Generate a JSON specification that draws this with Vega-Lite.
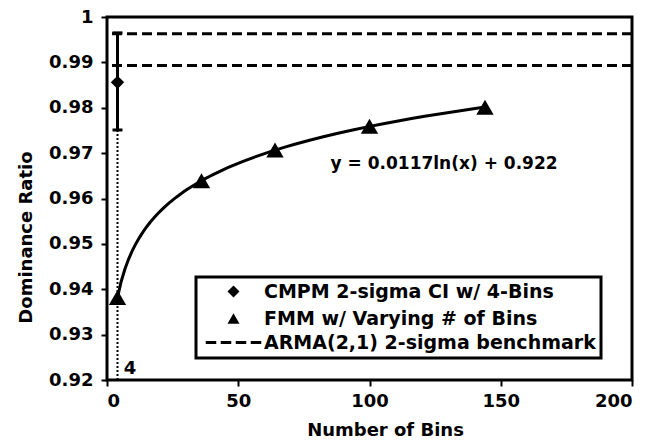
{
  "$schema": "https://vega.github.io/schema/vega-lite/v6.json",
  "width": 525,
  "height": 363,
  "autosize": "none",
  "padding": {"left": 107, "top": 17, "right": 20, "bottom": 62},
  "background": "white",
  "config": {
    "font": "DejaVu Sans",
    "view": {"stroke": "black", "strokeWidth": 3},
    "legend": {"strokeWidth": 3},
    "axis": {
      "domain": false,
      "grid": false,
      "tickColor": "black",
      "tickWidth": 2,
      "tickSize": 6,
      "labelFont": "DejaVu Sans",
      "labelFontSize": 18,
      "labelFontWeight": "bold",
      "labelColor": "black",
      "titleFont": "DejaVu Sans",
      "titleFontSize": 18,
      "titleFontWeight": "bold",
      "titleColor": "black"
    }
  },
  "datasets": {
    "pts": [
      {"x": 4, "y": 0.9856, "series": "CMPM 2-sigma CI w/ 4-Bins"},
      {"x": 4, "y": 0.9382, "series": "FMM w/ Varying # of Bins"},
      {"x": 36, "y": 0.9639, "series": "FMM w/ Varying # of Bins"},
      {"x": 64, "y": 0.9707, "series": "FMM w/ Varying # of Bins"},
      {"x": 100, "y": 0.9759, "series": "FMM w/ Varying # of Bins"},
      {"x": 144, "y": 0.9801, "series": "FMM w/ Varying # of Bins"}
    ],
    "bench": [{"y": 0.9963}, {"y": 0.9893}],
    "ci": [{"x": 4, "lo": 0.9751, "hi": 0.9965}],
    "caps": [{"x": 4, "y": 0.9751}, {"x": 4, "y": 0.9965}],
    "dotted": [{"x": 4, "y": 0.92, "y2": 0.9751}],
    "labels": [
      {"x": 8.8, "y": 0.9225, "text": "4", "kind": "four"},
      {"x": 128.4, "y": 0.9675, "text": "y = 0.0117ln(x) + 0.922", "kind": "eq"}
    ]
  },
  "layer": [
    {
      "data": {"name": "bench"},
      "mark": {"type": "rule", "color": "black", "strokeWidth": 3, "strokeDash": [10, 5]},
      "encoding": {
        "y": {"field": "y", "type": "quantitative", "scale": {"domain": [0.92, 1]}}
      }
    },
    {
      "data": {"name": "dotted"},
      "mark": {"type": "rule", "color": "black", "strokeWidth": 2, "strokeDash": [2, 2]},
      "encoding": {
        "x": {"field": "x", "type": "quantitative"},
        "y": {"field": "y", "type": "quantitative"},
        "y2": {"field": "y2"}
      }
    },
    {
      "data": {"name": "ci"},
      "mark": {"type": "rule", "color": "black", "strokeWidth": 3},
      "encoding": {
        "x": {"field": "x", "type": "quantitative"},
        "y": {"field": "lo", "type": "quantitative"},
        "y2": {"field": "hi"}
      }
    },
    {
      "data": {"name": "caps"},
      "mark": {"type": "tick", "color": "black", "orient": "horizontal", "thickness": 3, "size": 10, "opacity": 1},
      "encoding": {
        "x": {"field": "x", "type": "quantitative"},
        "y": {"field": "y", "type": "quantitative"}
      }
    },
    {
      "data": {"name": "pts"},
      "transform": [
        {"filter": "datum.series === 'FMM w/ Varying # of Bins'"},
        {"regression": "y", "on": "x", "method": "log", "extent": [4, 144]}
      ],
      "mark": {"type": "line", "color": "black", "strokeWidth": 3},
      "encoding": {
        "x": {"field": "x", "type": "quantitative"},
        "y": {"field": "y", "type": "quantitative"}
      }
    },
    {
      "data": {"name": "pts"},
      "mark": {"type": "point", "filled": true, "color": "black", "opacity": 1},
      "encoding": {
        "x": {"field": "x", "type": "quantitative"},
        "y": {"field": "y", "type": "quantitative"},
        "size": {"condition": {"test": "datum.series === 'CMPM 2-sigma CI w/ 4-Bins'", "value": 180}, "value": 300},
        "shape": {
          "field": "series",
          "type": "nominal",
          "scale": {
            "domain": ["CMPM 2-sigma CI w/ 4-Bins", "FMM w/ Varying # of Bins", "ARMA(2,1) 2-sigma benchmark"],
            "range": ["diamond", "triangle-up", "M-4.625,-0.25H-2.875V0.25H-4.625ZM-2.125,-0.25H-0.375V0.25H-2.125ZM0.375,-0.25H2.125V0.25H0.375ZM2.875,-0.25H4.625V0.25H2.875Z"]
          },
          "legend": {
            "title": null,
            "orient": "none",
            "legendX": 89,
            "legendY": 260,
            "strokeColor": "black",
            "fillColor": "white",
            "padding": 5,
            "rowPadding": 3,
            "symbolSize": 144,
            "symbolFillColor": "black",
            "symbolStrokeWidth": 3,
            "symbolOffset": 23,
            "labelOffset": 21,
            "labelFont": "DejaVu Sans",
            "labelFontSize": 19,
            "labelFontWeight": "bold",
            "labelColor": "black",
            "labelLimit": 600
          }
        }
      }
    },
    {
      "data": {"name": "labels"},
      "mark": {"type": "text", "font": "DejaVu Sans", "fontWeight": "bold", "color": "black", "baseline": "middle", "align": "center"},
      "encoding": {
        "x": {"field": "x", "type": "quantitative"},
        "y": {"field": "y", "type": "quantitative"},
        "text": {"field": "text"},
        "size": {"condition": {"test": "datum.kind === 'eq'", "value": 17}, "value": 18}
      }
    }
  ],
  "encoding": {
    "x": {
      "type": "quantitative",
      "scale": {"domain": [0, 200], "nice": false},
      "axis": {"title": "Number of Bins", "values": [0, 50, 100, 150, 200], "format": "d", "labelPadding": 6, "titleX": 278, "titlePadding": 11}
    },
    "y": {
      "type": "quantitative",
      "scale": {"domain": [0.92, 1], "nice": false, "zero": false},
      "axis": {"title": "Dominance Ratio", "values": [0.92, 0.93, 0.94, 0.95, 0.96, 0.97, 0.98, 0.99, 1], "format": "~g", "labelPadding": 8, "titleY": 220, "titlePadding": 13}
    }
  }
}
